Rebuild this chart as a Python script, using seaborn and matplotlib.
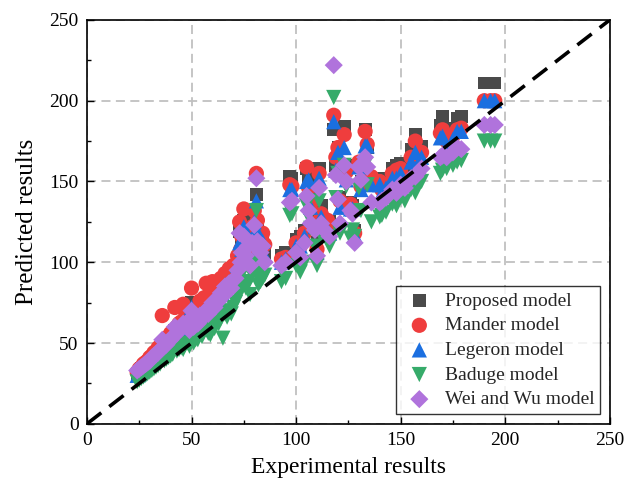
import numpy as np
import pandas as pd
import matplotlib
matplotlib.use("Agg")
import matplotlib.pyplot as plt
import seaborn as sns

exp_results = [24, 25, 26, 27, 28, 29, 30, 31, 32, 33, 34, 35, 36, 37, 38, 39, 40, 41, 42, 43, 44, 45, 46, 47, 48,
               49, 50, 51, 52, 53, 54, 55, 56, 57, 58, 59, 60, 61, 62, 63, 64, 65, 66, 67, 68, 69, 70,
               71, 72, 73, 73.5, 74, 75, 76, 77, 78, 79, 80, 81, 81.5, 82, 83, 84, 85,
               93, 95, 97, 98, 100, 102, 104, 105, 106, 107, 109, 110, 111, 112,
               115, 116, 118, 119, 120, 121, 123, 124, 126, 127, 128, 130, 131, 133, 134, 136,
               140, 141, 143, 146, 148, 150, 152, 155, 157, 158, 160,
               169, 170, 172, 175, 177, 179,
               190, 193, 195]

proposed = [31, 32, 34, 35, 36, 37, 38, 40, 41, 42, 43, 45, 50, 47, 48, 50, 52, 53, 58, 56, 57, 58, 60, 61, 62,
            60, 75, 62, 66, 65, 70, 68, 72, 73, 71, 76, 78, 75, 80, 79, 84, 82, 88, 85, 90, 87, 92,
            95, 100, 119, 105, 112, 126, 108, 115, 104, 118, 128, 142, 120, 110, 112, 115, 105,
            104, 106, 153, 152, 114, 116, 120, 158, 150, 140, 128, 112, 158, 135,
            123, 125, 182, 160, 171, 140, 184, 160, 137, 135, 120, 160, 150, 182, 171, 152,
            152, 148, 150, 158, 160, 161, 155, 170, 179, 165, 172,
            185, 190, 178, 183, 189, 190,
            211, 211, 211]

mander = [32, 34, 35, 37, 38, 39, 41, 42, 44, 45, 47, 48, 67, 50, 52, 54, 56, 57, 72, 60, 62, 63, 74, 66, 68,
          63, 84, 65, 70, 68, 76, 72, 78, 87, 75, 82, 88, 80, 86, 84, 90, 87, 93, 90, 96, 92, 98,
          98, 104, 125, 108, 116, 133, 112, 118, 108, 122, 132, 155, 126, 114, 116, 118, 111,
          102, 103, 148, 147, 112, 110, 118, 159, 146, 136, 124, 108, 155, 130,
          126, 120, 191, 165, 171, 138, 179, 156, 136, 134, 118, 162, 147, 181, 173, 153,
          150, 145, 148, 155, 157, 158, 152, 165, 175, 162, 168,
          180, 182, 175, 178, 182, 183,
          200, 200, 200]

legeron = [30, 31, 33, 34, 35, 36, 37, 38, 40, 41, 42, 43, 48, 45, 46, 48, 49, 50, 55, 53, 54, 55, 57, 58, 59,
           58, 72, 60, 64, 63, 68, 66, 70, 71, 69, 74, 76, 73, 78, 77, 82, 80, 86, 83, 88, 85, 90,
           93, 98, 112, 102, 108, 122, 105, 112, 102, 115, 125, 138, 119, 108, 110, 113, 104,
           100, 102, 145, 145, 110, 110, 116, 150, 151, 134, 122, 106, 152, 128,
           120, 118, 187, 157, 168, 134, 171, 151, 133, 133, 117, 159, 145, 172, 172, 148,
           148, 143, 146, 152, 152, 155, 150, 162, 168, 160, 165,
           177, 178, 172, 176, 181, 181,
           200, 200, 200]

baduge = [26, 27, 28, 29, 30, 31, 32, 33, 34, 35, 36, 37, 40, 39, 40, 41, 42, 43, 46, 45, 46, 47, 46, 49, 50,
          48, 56, 50, 52, 52, 55, 54, 57, 58, 56, 55, 60, 59, 63, 62, 65, 53, 68, 66, 70, 68, 72,
          75, 80, 90, 82, 86, 100, 84, 88, 80, 92, 100, 132, 95, 86, 88, 90, 92,
          88, 90, 129, 130, 98, 94, 100, 135, 128, 121, 110, 98, 138, 116,
          116, 110, 202, 140, 155, 118, 160, 147, 115, 120, 116, 146, 132, 160, 148, 125,
          128, 129, 131, 136, 135, 140, 138, 145, 143, 148, 150,
          155, 157, 158, 160, 162, 163,
          175, 175, 175]

wei_wu = [33, 34, 35, 36, 37, 38, 39, 41, 42, 43, 44, 46, 52, 48, 49, 51, 52, 54, 60, 56, 58, 59, 62, 61, 63,
          58, 70, 60, 63, 62, 67, 65, 69, 70, 68, 72, 75, 72, 77, 76, 81, 79, 85, 82, 87, 84, 89,
          90, 95, 118, 100, 106, 116, 104, 110, 98, 112, 123, 152, 113, 108, 106, 110, 100,
          98, 100, 137, 138, 106, 103, 112, 141, 132, 124, 120, 104, 146, 124,
          118, 116, 222, 154, 139, 124, 160, 150, 132, 130, 112, 159, 151, 165, 159, 137,
          137, 138, 140, 145, 143, 148, 146, 152, 153, 155, 158,
          165, 166, 165, 168, 171, 170,
          185, 185, 185]

model_names = ["Proposed model", "Mander model", "Legeron model", "Baduge model", "Wei and Wu model"]
model_values = [proposed, mander, legeron, baduge, wei_wu]
colors = ["#4a4a4a", "#ef3d3d", "#1b6fe0", "#36ab6a", "#b073dc"]
markers = ["s", "o", "^", "v", "D"]
sizes = [85, 120, 120, 120, 85]

frames = []
for name, vals in zip(model_names, model_values):
    frames.append(pd.DataFrame({"exp": exp_results, "pred": vals, "model": name}))
df = pd.concat(frames, ignore_index=True)

sns.set_theme(style="white")
plt.rcParams["font.family"] = ["Liberation Serif", "DejaVu Serif"]

fig = plt.figure(figsize=(6.28, 4.86), dpi=100)
ax = fig.add_axes([0.1385, 0.128, 0.8325, 0.831])

for name, col, mk, sz in zip(model_names, colors, markers, sizes):
    sns.scatterplot(data=df[df["model"] == name], x="exp", y="pred", color=col, marker=mk,
                    s=sz, linewidth=0, edgecolor="none", label=name, ax=ax, zorder=3)

ax.plot([0, 250], [0, 250], color="black", linestyle=(0, (5, 2.8)), linewidth=2.6, zorder=4)

ax.set_xlim(0, 250)
ax.set_ylim(0, 250)
ax.set_xticks(np.arange(0, 251, 50))
ax.set_yticks(np.arange(0, 251, 50))
ax.set_xticks(np.arange(25, 250, 50), minor=True)
ax.set_yticks(np.arange(25, 250, 50), minor=True)
ax.grid(True, which="major", color="#c0c0c0", linestyle=(0, (5, 3)), linewidth=1.3, zorder=0)
ax.set_axisbelow(True)
ax.tick_params(which="both", direction="in", bottom=True, left=True, top=False, right=False,
               labelsize=14, width=1, colors="black")
ax.tick_params(which="major", length=5, pad=6)
ax.tick_params(which="minor", length=3)
for sp in ax.spines.values():
    sp.set_color("black")
    sp.set_linewidth(1.2)

ax.set_xlabel("Experimental results", fontsize=17, color="black", labelpad=6)
ax.set_ylabel("Predicted results", fontsize=18, color="black", labelpad=8)

leg = ax.legend(loc="lower right", fontsize=14, frameon=True, fancybox=False, edgecolor="black",
                borderaxespad=0.5, handletextpad=0.4, handlelength=1.8, labelspacing=0.36, borderpad=0.3)
leg.get_frame().set_linewidth(1.0)
leg.set_zorder(5)

fig.savefig("out.png", dpi=100)
